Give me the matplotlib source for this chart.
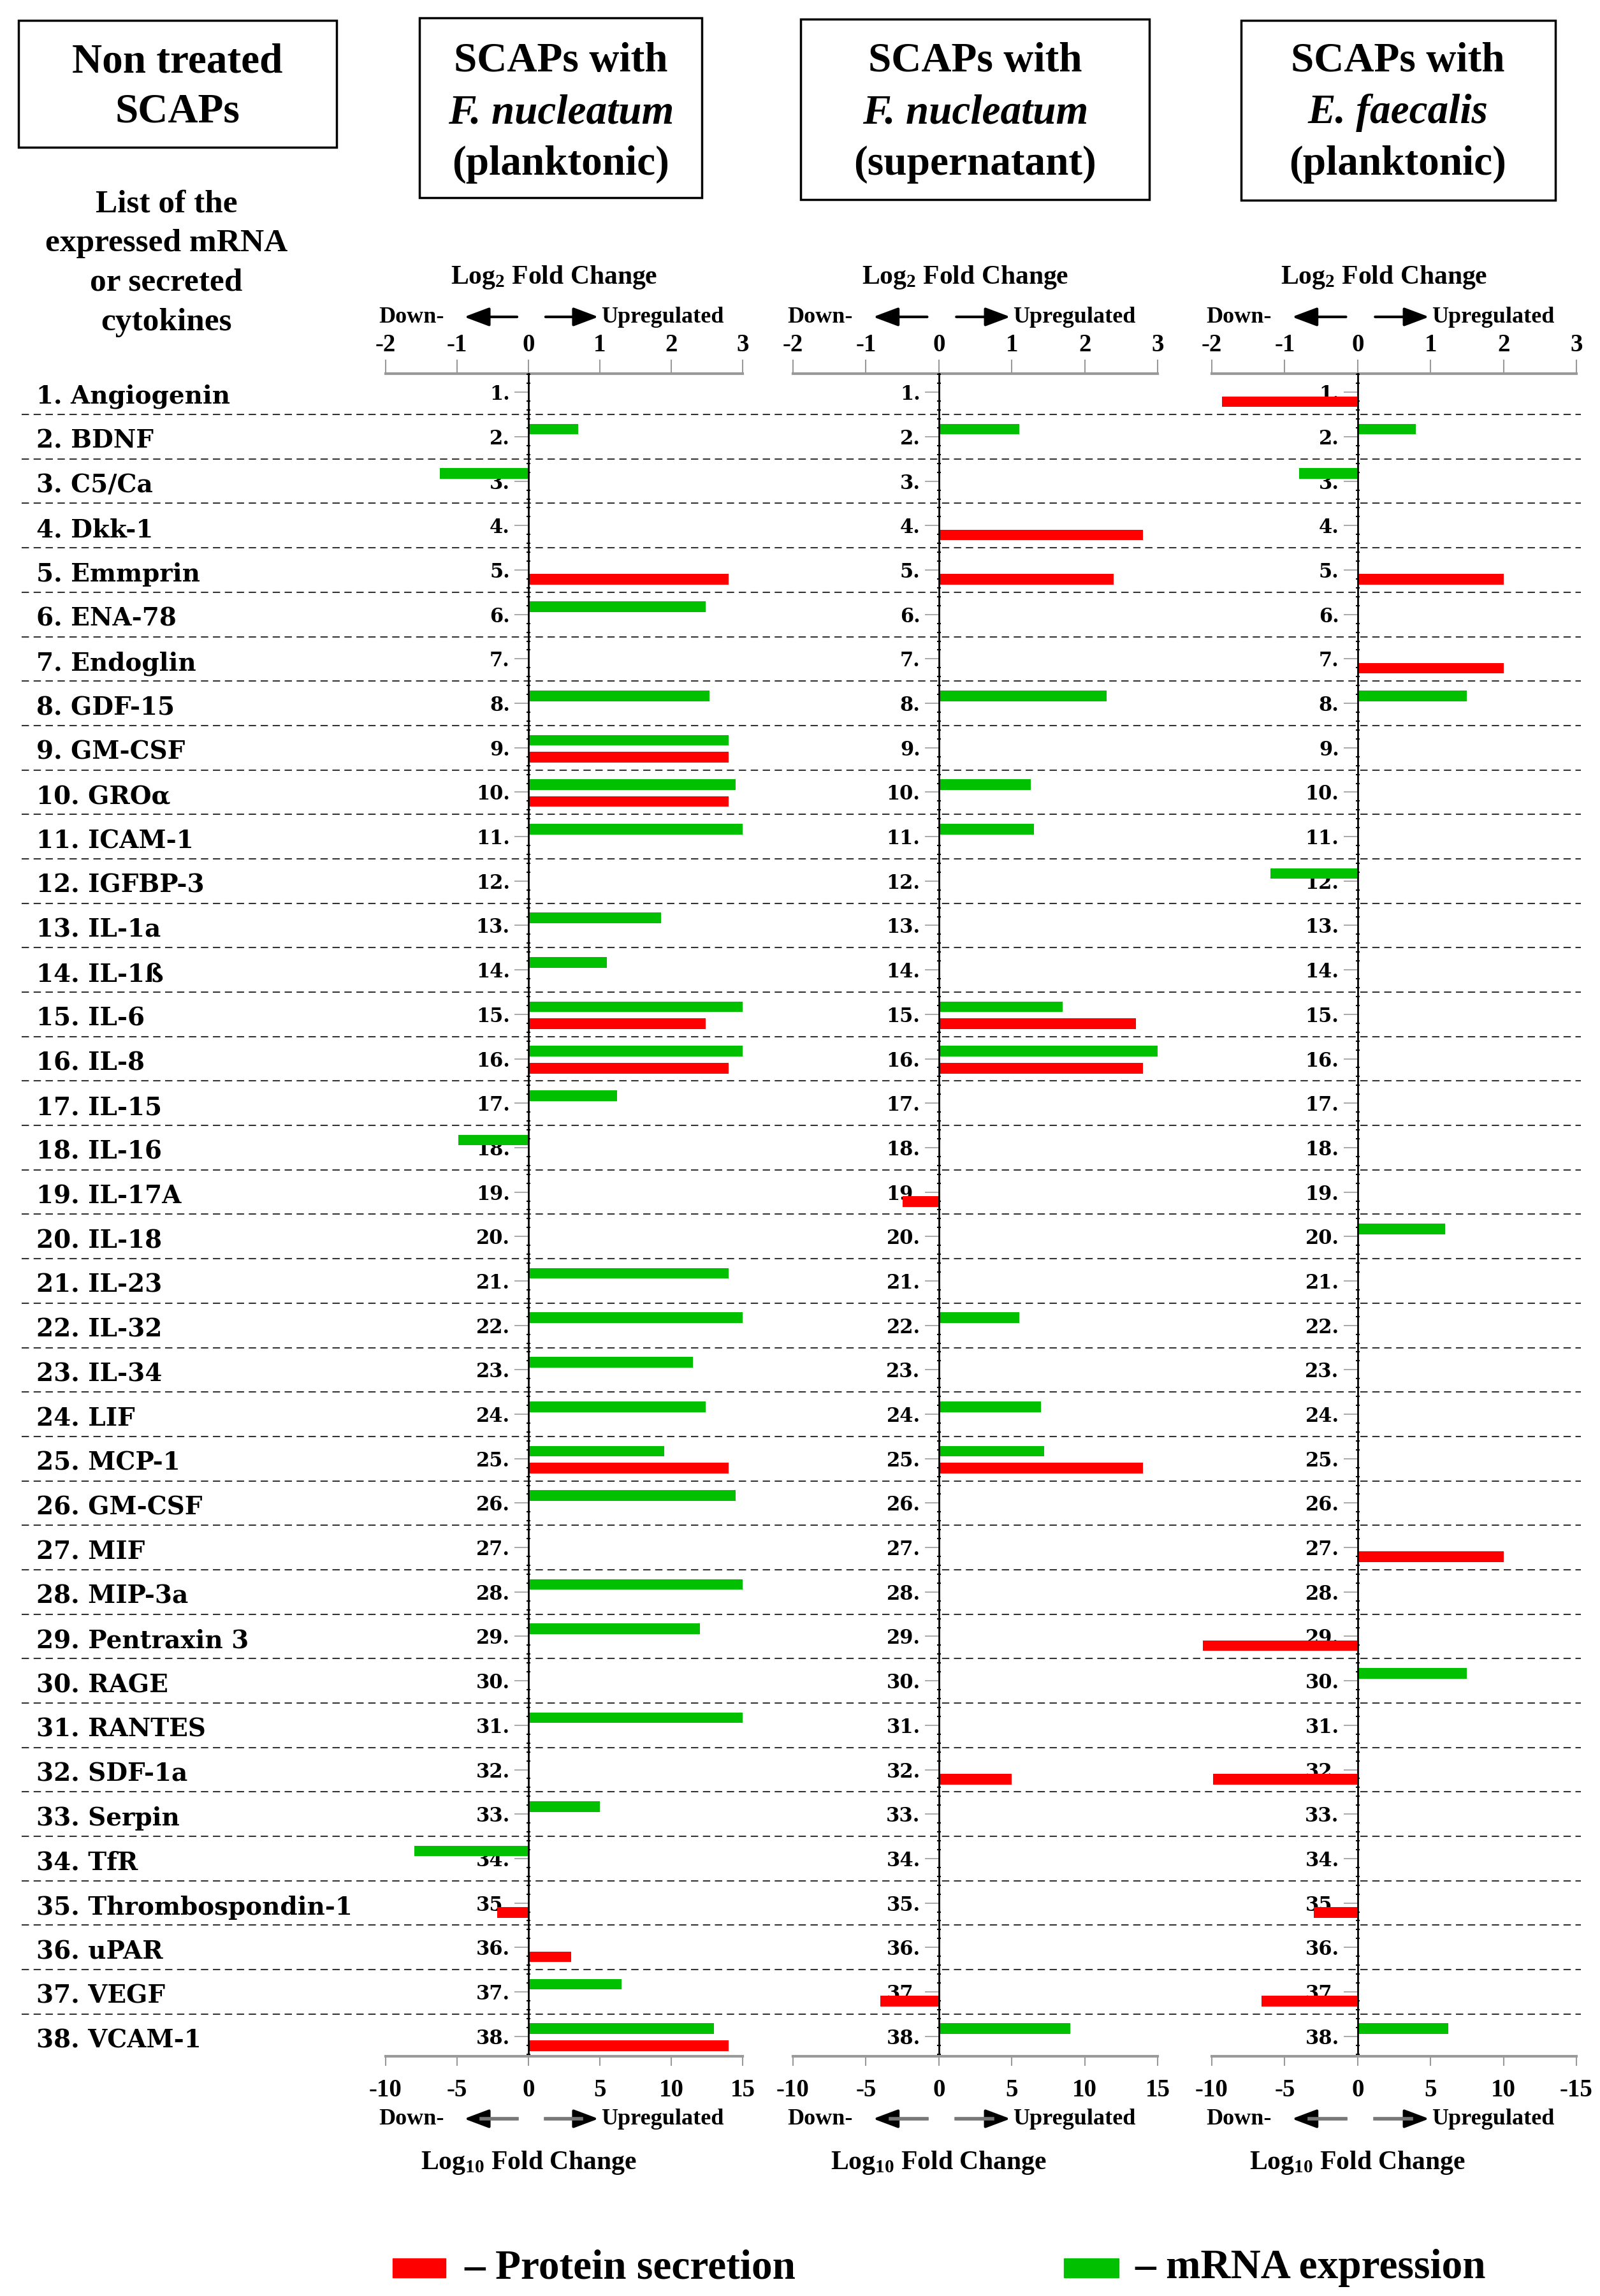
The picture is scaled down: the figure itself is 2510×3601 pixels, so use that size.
import matplotlib
matplotlib.use("Agg")
import matplotlib.pyplot as plt
import matplotlib.transforms as mtransforms
from matplotlib.patches import Rectangle
from matplotlib.ticker import MultipleLocator
import numpy as np

plt.rcParams['font.family'] = ['Liberation Serif', 'DejaVu Serif']
plt.rcParams['font.weight'] = 'bold'
plt.rcParams['mathtext.fontset'] = 'custom'
plt.rcParams['mathtext.rm'] = 'Liberation Serif:bold'
plt.rcParams['mathtext.it'] = 'Liberation Serif:italic:bold'
plt.rcParams['mathtext.bf'] = 'Liberation Serif:bold'

# cytokine list (rows 1..38)
cytokines = ["Angiogenin", "BDNF", "C5/Ca", "Dkk-1", "Emmprin", "ENA-78", "Endoglin",
             "GDF-15", "GM-CSF", "GROα", "ICAM-1", "IGFBP-3", "IL-1a", "IL-1ß", "IL-6",
             "IL-8", "IL-15", "IL-16", "IL-17A", "IL-18", "IL-23", "IL-32", "IL-34", "LIF",
             "MCP-1", "GM-CSF", "MIF", "MIP-3a", "Pentraxin 3", "RAGE", "RANTES", "SDF-1a",
             "Serpin", "TfR", "Thrombospondin-1", "uPAR", "VEGF", "VCAM-1"]

# values in bottom-axis units (log10 fold change; top axis log2 = value / 5), 0 = not shown
mrna_fn_plank = [0, 3.5, -6.2, 0, 0, 12.4, 0, 12.7, 14, 14.5, 15, 0, 9.3, 5.5, 15, 15, 6.2, -4.9, 0,
                 0, 14, 15, 11.5, 12.4, 9.5, 14.5, 0, 15, 12, 0, 15, 0, 5, -8, 0, 0, 6.5, 13]
protein_fn_plank = [0, 0, 0, 0, 14, 0, 0, 0, 14, 14, 0, 0, 0, 0, 12.4, 14, 0, 0, 0,
                    0, 0, 0, 0, 0, 14, 0, 0, 0, 0, 0, 0, 0, 0, 0, -2.2, 3, 0, 14]
mrna_fn_super = [0, 5.5, 0, 0, 0, 0, 0, 11.5, 0, 6.3, 6.5, 0, 0, 0, 8.5, 15, 0, 0, 0,
                 0, 0, 5.5, 0, 7, 7.2, 0, 0, 0, 0, 0, 0, 0, 0, 0, 0, 0, 0, 9]
protein_fn_super = [0, 0, 0, 14, 12, 0, 0, 0, 0, 0, 0, 0, 0, 0, 13.5, 14, 0, 0, -2.5,
                    0, 0, 0, 0, 0, 14, 0, 0, 0, 0, 0, 0, 5, 0, 0, 0, 0, -4, 0]
mrna_ef_plank = [0, 4, -4, 0, 0, 0, 0, 7.5, 0, 0, 0, -6, 0, 0, 0, 0, 0, 0, 0,
                 6, 0, 0, 0, 0, 0, 0, 0, 0, 0, 7.5, 0, 0, 0, 0, 0, 0, 0, 6.2]
protein_ef_plank = [-9.3, 0, 0, 0, 10, 0, 10, 0, 0, 0, 0, 0, 0, 0, 0, 0, 0, 0, 0,
                    0, 0, 0, 0, 0, 0, 0, 10, 0, -10.6, 0, 0, -9.9, 0, 0, -3, 0, -6.6, 0]

log2_ticks = [-2, -1, 0, 1, 2, 3]
log10_ticks = [-10, -5, 0, 5, 10, 15]
log10_labels = [["-10", "-5", "0", "5", "10", "15"],
                ["-10", "-5", "0", "5", "10", "15"],
                ["-10", "-5", "0", "5", "10", "-15"]]

RED = "#ff0000"
GREEN = "#00c000"
W, H = 2510, 3601


def fx(px):
    return px / W


def fy(py):
    return 1 - py / H


fig = plt.figure(figsize=(W / 100, H / 100), dpi=100)

ax_top, ax_bot = 586, 3225
bottom = fy(ax_bot)
height = (ax_bot - ax_top) / H
ylim = (38.45, 0.58)
rows = np.arange(1, 39)

# background: row separators and names
bg = fig.add_axes([0, bottom, 1, height], zorder=0)
bg.set_xlim(0, W)
bg.set_ylim(*ylim)
bg.axis('off')
bg.hlines(np.arange(1.5, 38.5, 1), 34, 2480, colors='#333333', linewidth=1.5,
          linestyles=(0, (5.5, 3.5)))
for i, name in zip(rows, cytokines):
    bg.text(57, i + 0.1, f"{i}. {name}", va='center', ha='left', fontsize=28,
            family='DejaVu Serif', fontweight='bold')

# header boxes
boxes = [(29, 32, 528, 231), (658, 28, 1101, 310), (1256, 30, 1803, 313), (1947, 32, 2440, 314)]
for x0, y0, x1, y1 in boxes:
    fig.patches.append(Rectangle((fx(x0), fy(y1)), fx(x1) - fx(x0), fy(y0) - fy(y1),
                                 transform=fig.transFigure, fill=False, lw=2.5, ec='black'))
hfs = 47
fig.text(fx(278), fy(97), "Non treated", ha='center', va='center', fontsize=hfs)
fig.text(fx(278), fy(176), "SCAPs", ha='center', va='center', fontsize=hfs)
headers = [(880, "F. nucleatum", "(planktonic)"), (1530, "F. nucleatum", "(supernatant)"),
           (2193, "E. faecalis", "(planktonic)")]
for cx, species, kind in headers:
    fig.text(fx(cx), fy(96), "SCAPs with", ha='center', va='center', fontsize=hfs)
    fig.text(fx(cx), fy(177), species, ha='center', va='center', fontsize=hfs, style='italic')
    fig.text(fx(cx), fy(258), kind, ha='center', va='center', fontsize=hfs)

fig.text(fx(261), fy(413), "List of the\nexpressed mRNA\nor secreted\ncytokines",
         ha='center', va='center', fontsize=37, linespacing=1.45, multialignment='center')

panels = [(605, 1165, mrna_fn_plank, protein_fn_plank),
          (1244, 1816, mrna_fn_super, protein_fn_super),
          (1901, 2473, mrna_ef_plank, protein_ef_plank)]

for k, (x0, x1, mrna, prot) in enumerate(panels):
    ax = fig.add_axes([fx(x0), bottom, (x1 - x0) / W, height], zorder=1)
    ax.patch.set_alpha(0)
    ax.set_xlim(-10, 15)
    ax.set_ylim(*ylim)

    m = np.array(mrna, dtype=float)
    p = np.array(prot, dtype=float)
    sel = m != 0
    ax.barh(rows[sel] - 0.17, m[sel], height=0.24, color=GREEN, clip_on=False, zorder=2)
    sel = p != 0
    ax.barh(rows[sel] + 0.21, p[sel], height=0.24, color=RED, clip_on=False, zorder=2)

    for s in ['right', 'top']:
        ax.spines[s].set_visible(False)
    ax.spines['left'].set_position(('data', 0))
    ax.spines['left'].set_linewidth(2)
    ax.spines['bottom'].set_color('#999999')
    ax.spines['bottom'].set_linewidth(3)

    ax.set_yticks(rows)
    ax.set_yticklabels([f"{i}." for i in rows], family='DejaVu Serif', fontweight='bold',
                       fontsize=22)
    ax.yaxis.set_minor_locator(MultipleLocator(0.2))
    ax.tick_params(axis='y', which='major', direction='out', length=16, width=1.2,
                   color='#999999', pad=5)
    ax.tick_params(axis='y', which='minor', direction='inout', length=5, width=1.5,
                   color='black')

    ax.set_xticks(log10_ticks)
    ax.set_xticklabels(log10_labels[k], fontsize=28)
    ax.tick_params(axis='x', direction='out', length=11, width=1.5, color='#999999', pad=14)

    sec = ax.secondary_xaxis('top', functions=(lambda x: x / 5, lambda x: x * 5))
    sec.set_xticks(log2_ticks)
    sec.set_xticklabels([str(t) for t in log2_ticks], fontsize=28)
    sec.spines['top'].set_color('#999999')
    sec.spines['top'].set_linewidth(3)
    sec.tick_params(axis='x', direction='out', length=16, width=1.5, color='#999999', pad=3)

    xy = ('data', 'figure fraction')
    ax.annotate(r"Log$_2$ Fold Change", xy=(1.8, fy(435)), xycoords=xy, ha='center',
                va='center', fontsize=30, annotation_clip=False)
    ax.annotate(r"Log$_{10}$ Fold Change", xy=(0, fy(3392)), xycoords=xy, ha='center',
                va='center', fontsize=30, annotation_clip=False)

    for py, shaft in [(497, 'black'), (3323, '#777777')]:
        ax.annotate("Down-", xy=(-5.9, fy(py)), xycoords=xy, ha='right', va='center',
                    fontsize=26, annotation_clip=False)
        ax.annotate("Upregulated", xy=(5.1, fy(py)), xycoords=xy, ha='left', va='center',
                    fontsize=26, annotation_clip=False)
        for a, b in [(-0.8, -4.5), (1.2, 4.9)]:
            ax.annotate("", xy=(b, fy(py)), xytext=(a, fy(py)), xycoords=xy, textcoords=xy,
                        annotation_clip=False,
                        arrowprops=dict(arrowstyle='-|>,head_length=1.2,head_width=0.45',
                                        mutation_scale=20, lw=3, color='black',
                                        shrinkA=0, shrinkB=0))
            if shaft != 'black':
                trans = mtransforms.blended_transform_factory(ax.transData, fig.transFigure)
                ax.plot([a, b - np.sign(b) * 1.2], [fy(py), fy(py)], color=shaft, lw=4,
                        transform=trans, clip_on=False, zorder=5)

# legend
fig.patches.append(Rectangle((fx(616), fy(3572)), fx(699) - fx(616), fy(3542) - fy(3572),
                             transform=fig.transFigure, color=RED))
fig.text(fx(728), fy(3557), "– Protein secretion", ha='left', va='center', fontsize=47)
fig.patches.append(Rectangle((fx(1669), fy(3572)), fx(1755) - fx(1669), fy(3542) - fy(3572),
                             transform=fig.transFigure, color=GREEN))
fig.text(fx(1780), fy(3557), "– mRNA expression", ha='left', va='center', fontsize=47)

fig.savefig("out.png", dpi=100)
